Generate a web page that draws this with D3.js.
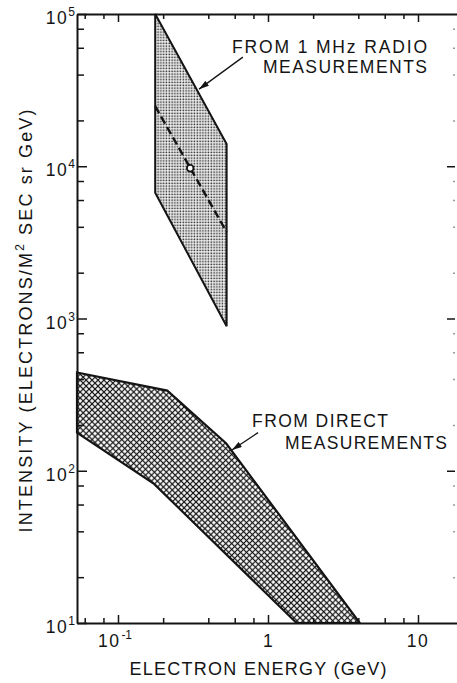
<!DOCTYPE html>
<html><head><meta charset="utf-8">
<script src="https://cdn.jsdelivr.net/npm/d3@7"></script>
<style>
body{margin:0;background:#fff}
text{font-family:"Liberation Sans",Arial,sans-serif;fill:#141414}
</style>
</head><body><svg id="c" width="457" height="683"></svg>
<script>
// ---- data ----
const xDomain = [0.0533, 18.2];
const yDomain = [10, 1e5];
const xMajorTicks = [0.1, 1, 10];
const xTickBase = ["10", "1", "10"];
const xTickSup = ["-1", "", ""];
const xMinorTicks = [0.06, 0.08, 0.2, 0.4, 0.6, 0.8, 2, 4, 6, 8];
const yMajorTicks = [10, 100, 1000, 1e4, 1e5];
const yTickSup = ["1", "2", "3", "4", "5"];
const yMinorTicks = [20,40,60,80,200,400,600,800,2000,4000,6000,8000,20000,40000,60000,80000];

// radio band (1 MHz radio measurements)
const radioE = [0.177, 0.53, 0.53, 0.177];
const radioI = [100000, 14000, 890, 6700];
const radioFitE = [0.177, 0.53];
const radioFitI = [24800, 3700];
const radioPointE = [0.303];
const radioPointI = [9700];

// direct measurements band
const directUpperE = [0.0533, 0.213, 0.527, 4.09];
const directUpperI = [442, 336, 151, 10];
const directLowerE = [0.0533, 0.174, 1.55];
const directLowerI = [178, 82, 10];

// annotation arrows (tail -> head), data coords
const arrowTailE = [0.68, 0.858];
const arrowTailI = [52100, 178];
const arrowHeadE = [0.347, 0.575];
const arrowHeadI = [32100, 137];

const svg = d3.select("#c");
const L = 77, R = 457, T = 14, B = 623;
const x = d3.scaleLog().domain(xDomain).range([L, R]);
const y = d3.scaleLog().domain(yDomain).range([B, T]);

const defs = svg.append("defs");
const st = defs.append("pattern").attr("id","stip").attr("patternUnits","userSpaceOnUse")
  .attr("width",2.8).attr("height",2.8);
st.append("rect").attr("width",2.8).attr("height",2.8).attr("fill","#fff");
st.append("rect").attr("x",0.5).attr("y",0.5).attr("width",1.6).attr("height",1.6).attr("fill","#222");
const hp = defs.append("pattern").attr("id","hatch").attr("patternUnits","userSpaceOnUse")
  .attr("width",4.2).attr("height",4.2).attr("patternTransform","rotate(45)");
hp.append("rect").attr("width",4.2).attr("height",4.2).attr("fill","#fff");
hp.append("path").attr("d","M0,2.1H4.2M2.1,0V4.2").attr("stroke","#151515").attr("stroke-width",1.2);
defs.append("marker").attr("id","arr").attr("viewBox","0 0 10 6").attr("refX",10).attr("refY",3)
  .attr("markerWidth",10).attr("markerHeight",6).attr("markerUnits","userSpaceOnUse").attr("orient","auto")
  .append("path").attr("d","M0,0L10,3L0,6Z").attr("fill","#141414");

// ---- bands ----
const line = d3.line().x(d=>x(d[0])).y(d=>y(d[1]));
const directPts = directUpperE.map((e,i)=>[e,directUpperI[i]])
  .concat(directLowerE.map((e,i)=>[e,directLowerI[i]]).reverse());
svg.append("path").attr("d", line(directPts)+"Z").attr("fill","url(#hatch)")
  .attr("stroke","#141414").attr("stroke-width",2.2).attr("stroke-linejoin","miter");

const radioPts = radioE.map((e,i)=>[e,radioI[i]]);
svg.append("path").attr("d", line(radioPts)+"Z").attr("fill","url(#stip)")
  .attr("stroke","#141414").attr("stroke-width",2).attr("stroke-linejoin","miter");
svg.append("path").attr("d", line(radioFitE.map((e,i)=>[e,radioFitI[i]])))
  .attr("fill","none").attr("stroke","#141414").attr("stroke-width",2.4).attr("stroke-dasharray","8,4");
svg.selectAll("circle.pt").data(radioPointE).join("circle").attr("class","pt")
  .attr("cx",d=>x(d)).attr("cy",(d,i)=>y(radioPointI[i])).attr("r",3.3)
  .attr("fill","#fff").attr("stroke","#141414").attr("stroke-width",1.8);

// ---- axes ----
function styleAxis(g, w){ g.selectAll("path.domain").attr("stroke","#141414").attr("stroke-width",w);
  g.selectAll(".tick line").attr("stroke","#141414").attr("stroke-width",1.5); g.selectAll(".tick text").remove(); }
svg.append("g").attr("transform",`translate(0,${B})`).call(d3.axisBottom(x).tickValues(xMajorTicks).tickSize(-8).tickSizeOuter(0)).call(g=>styleAxis(g,2));
svg.append("g").attr("transform",`translate(0,${B})`).call(d3.axisBottom(x).tickValues(xMinorTicks).tickSize(-5).tickSizeOuter(0)).call(g=>{styleAxis(g,2);g.select(".domain").remove();});
svg.append("g").attr("transform",`translate(0,${T})`).call(d3.axisTop(x).tickValues(xMajorTicks).tickSize(-8).tickSizeOuter(0)).call(g=>styleAxis(g,2));
svg.append("g").attr("transform",`translate(0,${T})`).call(d3.axisTop(x).tickValues(xMinorTicks).tickSize(-5).tickSizeOuter(0)).call(g=>{styleAxis(g,2);g.select(".domain").remove();});
svg.append("g").attr("transform",`translate(${L},0)`).call(d3.axisLeft(y).tickValues(yMajorTicks).tickSize(-10).tickSizeOuter(0)).call(g=>styleAxis(g,2));
svg.append("g").attr("transform",`translate(${L},0)`).call(d3.axisLeft(y).tickValues(yMinorTicks).tickSize(-7).tickSizeOuter(0)).call(g=>{styleAxis(g,2);g.select(".domain").remove();});
svg.append("g").attr("transform",`translate(455,0)`).call(d3.axisRight(y).tickValues(yMajorTicks.slice(1,4)).tickSize(-8).tickSizeOuter(0)).call(g=>{styleAxis(g,1);g.select(".domain").remove();});
svg.append("g").attr("transform",`translate(455,0)`).call(d3.axisRight(y).tickValues(yMinorTicks).tickSize(-2).tickSizeOuter(0)).call(g=>{styleAxis(g,1);g.select(".domain").remove();g.selectAll(".tick line").attr("stroke","#999");});

// tick labels
const fs = 17.5;
yMajorTicks.forEach((v,i)=>{
  const t = svg.append("text").attr("x",L-2).attr("y",y(v)+10).attr("text-anchor","end").attr("font-size",fs);
  t.append("tspan").text("10").attr("letter-spacing",1.5);
  t.append("tspan").text(yTickSup[i]).attr("font-size",12).attr("dy",-8).attr("dx",0);
});
xMajorTicks.forEach((v,i)=>{
  const t = svg.append("text").attr("x",x(v)+(xTickSup[i]?-3:0)).attr("y",647).attr("text-anchor","middle").attr("font-size",fs);
  t.append("tspan").text(xTickBase[i]).attr("letter-spacing",xTickBase[i].length>1?1.5:0);
  if(xTickSup[i]) t.append("tspan").text(xTickSup[i]).attr("font-size",12).attr("dy",-8).attr("dx",1);
});

// axis titles
svg.append("text").attr("x",258).attr("y",675).attr("text-anchor","middle").attr("font-size",18)
  .attr("textLength",257).attr("lengthAdjust","spacing").text("ELECTRON ENERGY (GeV)");
const yt = svg.append("text").attr("transform","translate(32,321) rotate(-90)").attr("text-anchor","middle").attr("font-size",18)
  .attr("textLength",423).attr("lengthAdjust","spacing");
yt.append("tspan").text("INTENSITY (ELECTRONS/M");
yt.append("tspan").text("2").attr("font-size",12).attr("dy",-8);
yt.append("tspan").text(" SEC  sr  GeV)").attr("dy",8);

// annotations
function label(txt, x0, x1, yb){ svg.append("text").attr("x",x0).attr("y",yb).attr("font-size",17.5)
  .attr("textLength",x1-x0).attr("lengthAdjust","spacing").text(txt); }
label("FROM 1 MHz RADIO", 232, 427, 53);
label("MEASUREMENTS", 263, 427, 73);
label("FROM DIRECT", 252, 388, 427);
label("MEASUREMENTS", 285, 447, 449);
arrowTailE.forEach((e,i)=>{
  svg.append("line").attr("x1",x(e)).attr("y1",y(arrowTailI[i])).attr("x2",x(arrowHeadE[i])).attr("y2",y(arrowHeadI[i]))
    .attr("stroke","#141414").attr("stroke-width",1.3).attr("marker-end","url(#arr)");
});
</script></body></html>
